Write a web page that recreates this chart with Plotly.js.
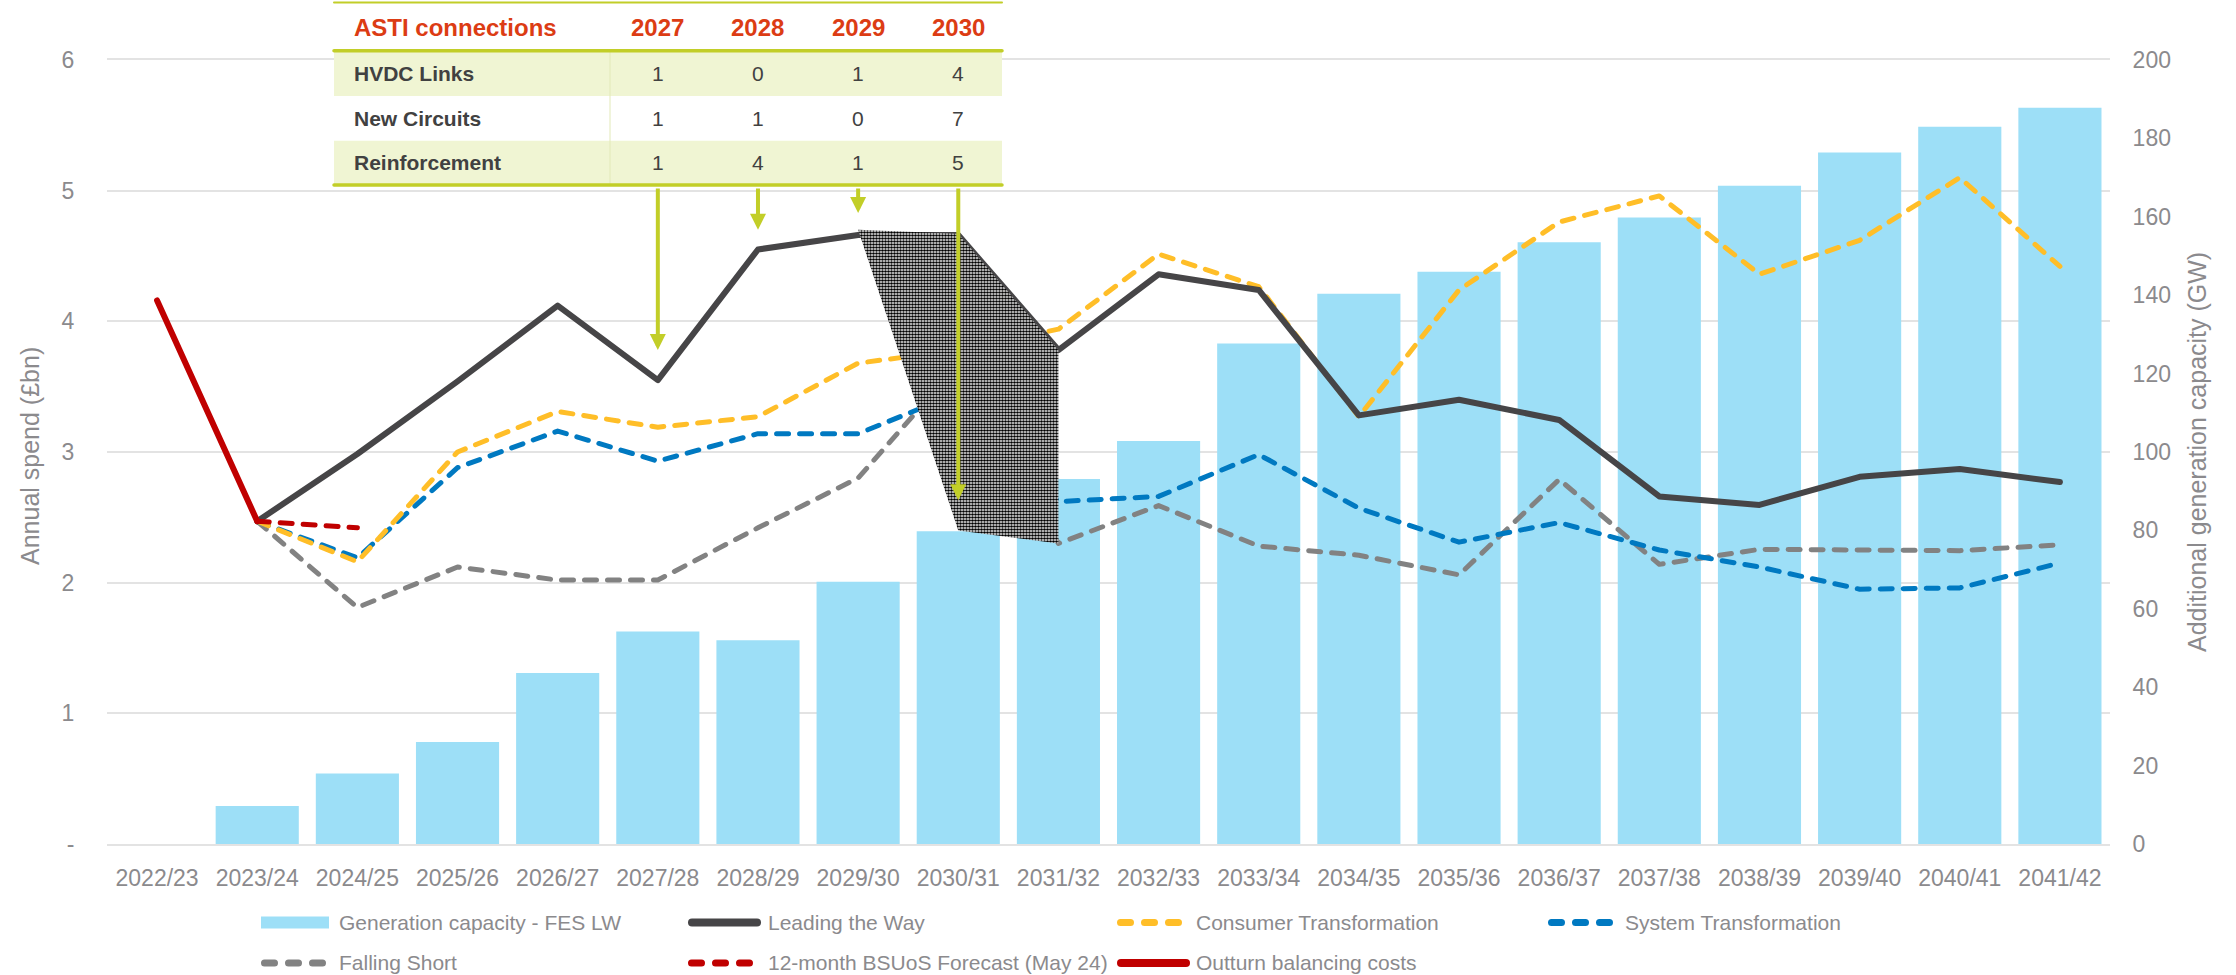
<!DOCTYPE html>
<html>
<head>
<meta charset="utf-8">
<script src="https://cdn.plot.ly/plotly-3.0.1.min.js"></script>
<style>
  html, body { margin: 0; padding: 0; background: #ffffff; }
  #chart { width: 2236px; height: 975px; }
</style>
</head>
<body>
<div id="chart"></div>
<script>
// ---------------- DATA ----------------
const categories = ['2022/23','2023/24','2024/25','2025/26','2026/27','2027/28','2028/29','2029/30','2030/31','2031/32',
                    '2032/33','2033/34','2034/35','2035/36','2036/37','2037/38','2038/39','2039/40','2040/41','2041/42'];

// Additional generation capacity (GW) - FES Leading the Way (right axis)
const generationCapacity = [null, 9.7, 18.0, 26.0, 43.6, 54.2, 52.0, 66.9, 79.8, 93.1,
                            102.8, 127.7, 140.4, 146.0, 153.5, 159.8, 167.9, 176.4, 183.0, 187.8];

// Annual spend (£bn) (left axis)
const leadingTheWay          = [null, 2.47, 2.985, 3.54, 4.12, 3.55, 4.55, 4.66, 4.66, 3.78,
                                4.36, 4.24, 3.28, 3.40, 3.245, 2.66, 2.595, 2.81, 2.87, 2.77];
const consumerTransformation = [null, 2.47, 2.16, 3.00, 3.31, 3.19, 3.27, 3.68, 3.78, 3.94,
                                4.515, 4.265, 3.27, 4.24, 4.76, 4.96, 4.36, 4.62, 5.10, 4.42];
const systemTransformation   = [null, 2.47, 2.19, 2.88, 3.16, 2.93, 3.14, 3.14, 3.45, 2.62,
                                2.66, 2.98, 2.57, 2.31, 2.46, 2.25, 2.12, 1.95, 1.96, 2.15];
const fallingShort           = [null, 2.47, 1.81, 2.12, 2.02, 2.02, 2.42, 2.80, 3.67, 2.30,
                                2.59, 2.28, 2.21, 2.06, 2.79, 2.14, 2.255, 2.25, 2.245, 2.29];
const bsuosForecast          = [null, 2.47, 2.42, null, null, null, null, null, null, null,
                                null, null, null, null, null, null, null, null, null, null];
const outturnCosts           = [4.16, 2.47, null, null, null, null, null, null, null, null,
                                null, null, null, null, null, null, null, null, null, null];

const spendTickValues = [0, 1, 2, 3, 4, 5, 6];
const spendTickLabels = ['-', '1', '2', '3', '4', '5', '6'];
const capacityTickValues = [0, 20, 40, 60, 80, 100, 120, 140, 160, 180, 200];

// ASTI connections table
const tableTitle = 'ASTI connections';
const tableYears = ['2027', '2028', '2029', '2030'];
const tableCategories = ['2027/28', '2028/29', '2029/30', '2030/31'];
const tableRowLabels = ['HVDC Links', 'New Circuits', 'Reinforcement'];
const hvdcLinks = [1, 0, 1, 4];
const newCircuits = [1, 1, 0, 7];
const reinforcement = [1, 4, 1, 5];
const arrowTipSpend = [3.78, 4.70, 4.83, 2.63];

// shaded gap polygon (annual spend, by category)
const gapPolygonCategories = ['2029/30', '2030/31', '2031/32', '2031/32', '2030/31'];
const gapPolygonSpend = [4.70, 4.67, 3.78, 2.30, 2.40];

const legendLabels = ['Generation capacity - FES LW', 'Leading the Way', 'Consumer Transformation',
                      'System Transformation', 'Falling Short', '12-month BSUoS Forecast (May 24)',
                      'Outturn balancing costs'];

// ---------------- GEOMETRY / STYLE ----------------
const W = 2236, H = 975;
const L = 107, R = 2110, T = 60, B = 844;
const px = x => (x - L) / (R - L);
const py = y => (B - y) / (B - T);
const spendAt = y => (B - y) / (B - T) * 6;

const FONT = 'Arial, "Liberation Sans", Helvetica, sans-serif';
const GREY_TEXT = '#8B8A8D';
const GRID = '#E3E3E3';
const C_BAR = '#9DDFF7';
const C_LTW = '#464547';
const C_CT = '#FFBE28';
const C_ST = '#0079C1';
const C_FS = '#828282';
const C_RED = '#C00000';
const C_GREEN = '#C2CE28';
const C_ROW = '#F0F5D3';
const C_HEAD = '#DC3C14';
const C_TABLE_TEXT = '#414141';
const DASH = '12px,11px';

// ---------------- TRACES ----------------
const traces = [
  { type: 'bar', x: categories, y: generationCapacity, yaxis: 'y', name: legendLabels[0],
    marker: { color: C_BAR, line: { width: 0 } }, showlegend: false, hoverinfo: 'skip' },
  { type: 'scatter', mode: 'lines', x: categories, y: fallingShort, yaxis: 'y2', name: legendLabels[4],
    line: { color: C_FS, width: 5, dash: DASH }, showlegend: false, hoverinfo: 'skip' },
  { type: 'scatter', mode: 'lines', x: categories, y: systemTransformation, yaxis: 'y2', name: legendLabels[3],
    line: { color: C_ST, width: 5, dash: DASH }, showlegend: false, hoverinfo: 'skip' },
  { type: 'scatter', mode: 'lines', x: categories, y: consumerTransformation, yaxis: 'y2', name: legendLabels[2],
    line: { color: C_CT, width: 5, dash: DASH }, showlegend: false, hoverinfo: 'skip' },
  { type: 'scatter', mode: 'lines', x: categories, y: leadingTheWay, yaxis: 'y2', name: legendLabels[1],
    line: { color: C_LTW, width: 6 }, showlegend: false, hoverinfo: 'skip' },
  { type: 'scatter', mode: 'lines', x: categories, y: bsuosForecast, yaxis: 'y2', name: legendLabels[5],
    line: { color: C_RED, width: 5, dash: DASH }, showlegend: false, hoverinfo: 'skip' },
  { type: 'scatter', mode: 'lines', x: categories, y: outturnCosts, yaxis: 'y2', name: legendLabels[6],
    line: { color: C_RED, width: 6 }, showlegend: false, hoverinfo: 'skip' },
  { type: 'scatter', mode: 'lines', x: gapPolygonCategories, y: gapPolygonSpend, yaxis: 'y2',
    fill: 'toself', fillcolor: '#ffffff',
    fillpattern: { shape: '.', size: 3, solidity: 0.62, fgcolor: '#000000', bgcolor: '#ffffff' },
    line: { width: 0, color: 'rgba(0,0,0,0)' }, showlegend: false, hoverinfo: 'skip' }
];

// ---------------- SHAPES & ANNOTATIONS ----------------
const shapes = [];
const annotations = [];

// table
const tLeft = 334, tRight = 1002;
const rowTops = [50.7, 96, 140.7];
const rowBottoms = [96, 140.7, 184];
[0, 2].forEach(i => shapes.push({ type: 'rect', xref: 'paper', yref: 'paper', layer: 'above',
  x0: px(tLeft), x1: px(tRight), y0: py(rowBottoms[i]), y1: py(rowTops[i]),
  fillcolor: C_ROW, line: { width: 0 } }));
shapes.push({ type: 'line', xref: 'paper', yref: 'paper', layer: 'above',
  x0: px(610), x1: px(610), y0: py(50.7), y1: py(184), line: { color: '#E2E9B8', width: 1 } });
[[2.5, 2], [50.7, 3.5], [185, 3.5]].forEach(([y, w]) => shapes.push({ type: 'line', xref: 'paper', yref: 'paper',
  layer: 'above', x0: px(tLeft), x1: px(tRight), y0: py(y), y1: py(y), line: { color: C_GREEN, width: w } }));

annotations.push({ xref: 'paper', yref: 'paper', x: px(352), y: py(27.5), xanchor: 'left', yanchor: 'middle',
  text: '<b>' + tableTitle + '</b>', showarrow: false, font: { family: FONT, size: 24, color: C_HEAD } });
tableYears.forEach((yr, i) => annotations.push({ xref: 'x', yref: 'paper', x: tableCategories[i], y: py(27.5),
  xanchor: 'center', yanchor: 'middle', text: '<b>' + yr + '</b>', showarrow: false,
  font: { family: FONT, size: 24, color: C_HEAD } }));
const tableValues = [hvdcLinks, newCircuits, reinforcement];
tableRowLabels.forEach((lab, r) => {
  const yc = py((rowTops[r] + rowBottoms[r]) / 2);
  annotations.push({ xref: 'paper', yref: 'paper', x: px(352), y: yc, xanchor: 'left', yanchor: 'middle',
    text: '<b>' + lab + '</b>', showarrow: false, font: { family: FONT, size: 21, color: C_TABLE_TEXT } });
  tableValues[r].forEach((v, i) => annotations.push({ xref: 'x', yref: 'paper', x: tableCategories[i], y: yc,
    xanchor: 'center', yanchor: 'middle', text: String(v), showarrow: false,
    font: { family: FONT, size: 21, color: C_TABLE_TEXT } }));
});
// arrows from table to lines
const tailSpend = spendAt(187);
arrowTipSpend.forEach((v, i) => annotations.push({ xref: 'x', yref: 'y2', x: tableCategories[i], y: v,
  axref: 'pixel', ax: 0, ayref: 'y2', ay: tailSpend, showarrow: true, arrowhead: 2, arrowsize: 0.8,
  arrowwidth: 4, arrowcolor: C_GREEN, standoff: 0, text: '' }));

// axis titles
annotations.push({ xref: 'paper', yref: 'paper', x: px(30), y: py(456), textangle: -90, showarrow: false,
  xanchor: 'center', yanchor: 'middle', text: 'Annual spend (£bn)', font: { family: FONT, size: 25, color: GREY_TEXT } });
annotations.push({ xref: 'paper', yref: 'paper', x: px(2197), y: py(452), textangle: -90, showarrow: false,
  xanchor: 'center', yanchor: 'middle', text: 'Additional generation capacity (GW)', font: { family: FONT, size: 25, color: GREY_TEXT } });

// manual legend
const row1 = 922.5, row2 = 963;
const legendItems = [
  { kind: 'bar',   x0: 261, x1: 329, y: row1, color: C_BAR, tx: 337 },
  { kind: 'solid', x0: 688, x1: 761, y: row1, color: C_LTW, tx: 766 },
  { kind: 'dash',  x0: 1117, x1: 1183, y: row1, color: C_CT, tx: 1194 },
  { kind: 'dash',  x0: 1548, x1: 1613, y: row1, color: C_ST, tx: 1623 },
  { kind: 'dash',  x0: 261, x1: 326, y: row2, color: C_FS, tx: 337 },
  { kind: 'dash',  x0: 688, x1: 753, y: row2, color: C_RED, tx: 766 },
  { kind: 'solid', x0: 1117, x1: 1190, y: row2, color: C_RED, tx: 1194 }
];
legendItems.forEach((it, i) => {
  if (it.kind === 'bar') {
    shapes.push({ type: 'rect', xref: 'paper', yref: 'paper', layer: 'above', x0: px(it.x0), x1: px(it.x1),
      y0: py(it.y + 6), y1: py(it.y - 6), fillcolor: it.color, line: { width: 0 } });
  } else if (it.kind === 'solid') {
    shapes.push({ type: 'line', xref: 'paper', yref: 'paper', layer: 'above', x0: px(it.x0 + 4), x1: px(it.x1 - 4),
      y0: py(it.y), y1: py(it.y), line: { color: it.color, width: 8 } });
  } else {
    shapes.push({ type: 'line', xref: 'paper', yref: 'paper', layer: 'above', x0: px(it.x0 + 3.5), x1: px(it.x1 - 3.5),
      y0: py(it.y), y1: py(it.y), line: { color: it.color, width: 7, dash: '10px,14px' } });
  }
  annotations.push({ xref: 'paper', yref: 'paper', x: px(it.tx), y: py(it.y), xanchor: 'left', yanchor: 'middle',
    showarrow: false, text: legendLabels[i], font: { family: FONT, size: 21, color: GREY_TEXT } });
});

// ---------------- LAYOUT ----------------
const layout = {
  width: W, height: H,
  margin: { l: L, r: W - R, t: T, b: H - B, pad: 0 },
  paper_bgcolor: '#ffffff', plot_bgcolor: 'rgba(0,0,0,0)',
  font: { family: FONT, color: GREY_TEXT },
  showlegend: false,
  hovermode: false,
  bargap: 0.17,
  xaxis: {
    type: 'category', categoryorder: 'array', categoryarray: categories,
    showgrid: false, zeroline: false, showline: true, mirror: true, linecolor: GRID, linewidth: 2,
    ticks: 'outside', ticklen: 12, tickcolor: 'rgba(0,0,0,0)', tickangle: 0,
    tickfont: { family: FONT, size: 23, color: GREY_TEXT }
  },
  yaxis: {
    side: 'right', range: [0, 200], tickvals: capacityTickValues,
    showgrid: false, zeroline: false, showline: false,
    ticks: 'outside', ticklen: 17, tickcolor: 'rgba(0,0,0,0)',
    tickfont: { family: FONT, size: 23, color: GREY_TEXT }
  },
  yaxis2: {
    overlaying: 'y', side: 'left', range: [0, 6], tickvals: spendTickValues, ticktext: spendTickLabels,
    showgrid: true, gridcolor: GRID, gridwidth: 2, zeroline: false, showline: false,
    ticks: 'outside', ticklen: 27, tickcolor: 'rgba(0,0,0,0)',
    tickfont: { family: FONT, size: 23, color: GREY_TEXT }
  },
  shapes: shapes,
  annotations: annotations
};

Plotly.newPlot('chart', traces, layout, { staticPlot: true, displayModeBar: false }).then(() => {
  document.querySelectorAll('.scatterlayer .js-line').forEach(p => {
    p.style.strokeLinecap = 'round';
    p.style.strokeLinejoin = 'round';
  });
  document.querySelectorAll('.shapelayer path').forEach(p => { p.style.strokeLinecap = 'round'; });
});
</script>
</body>
</html>
